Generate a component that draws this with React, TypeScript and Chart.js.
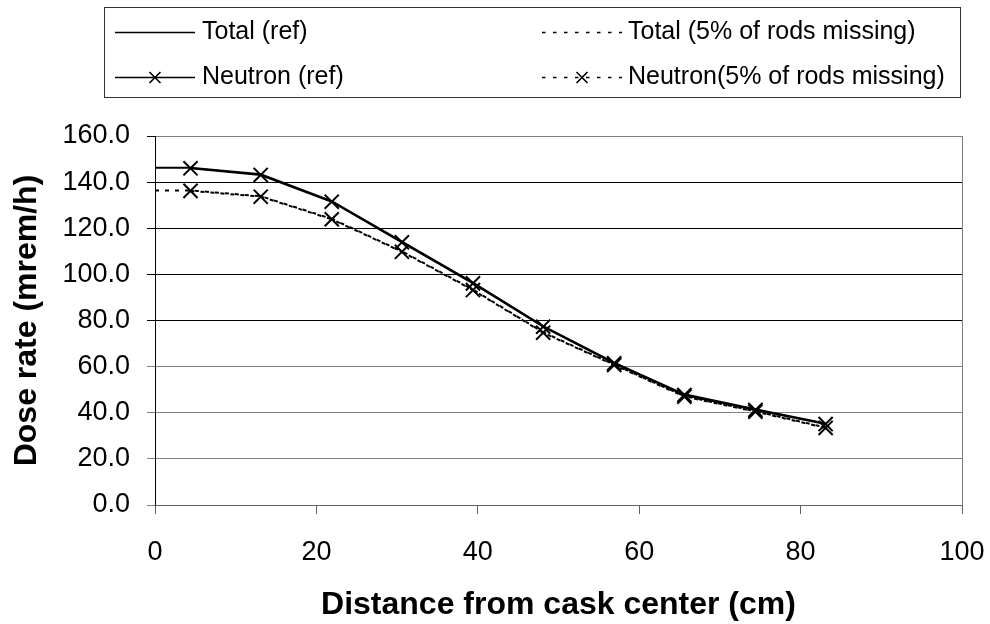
import { useEffect, useRef } from 'react';
import { Chart, registerables } from 'chart.js';

Chart.register(...registerables);

// Radial positions of the detector points (cm from cask centre)
const distances = [4.4, 13.1, 21.9, 30.6, 39.4, 48.1, 56.9, 65.6, 74.4, 83.1];
// Total curves also start at the cask centre
const totalDistances = [0, 4.4, 13.1, 21.9, 30.6, 39.4, 48.1, 56.9, 65.6, 74.4, 83.1];

// Dose rates (mrem/h)
const totalRef = [146.2, 146.2, 143.4, 131.8, 114.2, 96.4, 77.6, 61.7, 48.0, 41.5, 35.4];
const neutronRef = [146.0, 143.1, 131.5, 113.9, 96.1, 77.3, 61.4, 47.7, 41.2, 35.1];
const totalMissing = [136.4, 136.4, 133.9, 124.1, 110.0, 93.4, 74.9, 60.9, 47.2, 40.7, 33.6];
const neutronMissing = [136.2, 133.7, 123.9, 109.8, 93.2, 74.7, 60.7, 47.0, 40.5, 33.4];

const seriesNames = [
  'Total (ref)',
  'Neutron (ref)',
  'Total (5% of rods missing)',
  'Neutron(5% of rods missing)',
];

const xTitle = 'Distance from cask center (cm)';
const yTitle = 'Dose rate (mrem/h)';

const FONT = '"Liberation Sans", Arial, sans-serif';
const DASH = [4, 6];

const pairs = (xs: number[], ys: number[]) => xs.map((x, i) => ({ x, y: ys[i] }));

// Boxed 2x2 legend above the plot
const boxLegend = {
  id: 'boxLegend',
  afterDraw(chart: any) {
    const ctx = chart.ctx as CanvasRenderingContext2D;
    ctx.save();
    ctx.strokeStyle = '#333';
    ctx.lineWidth = 1;
    ctx.setLineDash([]);
    ctx.strokeRect(104.5, 7.5, 856, 90);

    const rows = [32, 77];
    const cols = [
      { x0: 115, x1: 195, tx: 202 },
      { x0: 542, x1: 622, tx: 628 },
    ];
    const drawX = (cx: number, cy: number) => {
      const h = 5.5;
      ctx.setLineDash([]);
      ctx.lineWidth = 1.6;
      ctx.beginPath();
      ctx.moveTo(cx - h, cy - h);
      ctx.lineTo(cx + h, cy + h);
      ctx.moveTo(cx - h, cy + h);
      ctx.lineTo(cx + h, cy - h);
      ctx.stroke();
    };
    const items = [
      { col: 0, row: 0, dashed: false, marker: false, label: seriesNames[0] },
      { col: 0, row: 1, dashed: false, marker: true, label: seriesNames[1] },
      { col: 1, row: 0, dashed: true, marker: false, label: seriesNames[2] },
      { col: 1, row: 1, dashed: true, marker: true, label: seriesNames[3] },
    ];
    ctx.font = `25px ${FONT}`;
    ctx.textBaseline = 'middle';
    ctx.textAlign = 'left';
    ctx.fillStyle = '#000';
    for (const it of items) {
      const c = cols[it.col];
      const y = rows[it.row];
      ctx.strokeStyle = '#000';
      ctx.lineWidth = 1.6;
      ctx.setLineDash(it.dashed ? [3.5, 7.5] : []);
      ctx.beginPath();
      ctx.moveTo(c.x0, y + 0.5);
      ctx.lineTo(c.x1, y + 0.5);
      ctx.stroke();
      if (it.marker) drawX((c.x0 + c.x1) / 2, y + 0.5);
      ctx.fillText(it.label, c.tx, y);
    }
    ctx.restore();
  },
};

export default function App() {
  const canvasRef = useRef<HTMLCanvasElement | null>(null);

  useEffect(() => {
    const canvas = canvasRef.current;
    if (!canvas) return;

    const chart = new Chart(canvas, {
      type: 'line',
      data: {
        datasets: [
          {
            label: seriesNames[0],
            data: pairs(totalDistances, totalRef),
            borderColor: '#000',
            borderWidth: 2,
            pointRadius: 0,
            tension: 0,
          },
          {
            label: seriesNames[2],
            data: pairs(totalDistances, totalMissing),
            borderColor: '#000',
            borderWidth: 2,
            borderDash: DASH,
            pointRadius: 0,
            tension: 0,
          },
          {
            label: seriesNames[1],
            data: pairs(distances, neutronRef),
            borderColor: '#000',
            borderWidth: 2,
            pointStyle: 'crossRot',
            pointRadius: 10,
            pointBorderWidth: 2,
            pointBorderColor: '#000',
            tension: 0,
          },
          {
            label: seriesNames[3],
            data: pairs(distances, neutronMissing),
            borderColor: '#000',
            borderWidth: 2,
            borderDash: DASH,
            pointStyle: 'crossRot',
            pointRadius: 10,
            pointBorderWidth: 2,
            pointBorderColor: '#000',
            tension: 0,
          },
        ],
      },
      options: {
        animation: false,
        responsive: false,
        devicePixelRatio: 1,
        layout: { padding: { top: 136, right: 28, left: 0, bottom: 0 } },
        plugins: {
          legend: { display: false },
          tooltip: { enabled: false },
        },
        scales: {
          x: {
            type: 'linear',
            min: 0,
            max: 100,
            ticks: {
              stepSize: 20,
              color: '#000',
              font: { family: FONT, size: 27 },
              padding: 22,
              maxRotation: 0,
            },
            grid: {
              color: (c: any) => (c.tick && c.tick.value === 100 ? '#808080' : 'rgba(0,0,0,0)'),
              tickColor: '#606060',
              tickLength: 9,
              lineWidth: 1,
            },
            border: { color: '#606060', width: 1 },
            title: {
              display: true,
              text: xTitle,
              color: '#000',
              font: { family: FONT, size: 32, weight: 'bold' },
              padding: { top: 0, bottom: 0 },
            },
            afterFit: (scale: any) => {
              scale.height = 119;
              scale.paddingLeft = 0;
              scale.paddingRight = 0;
            },
          },
          y: {
            type: 'linear',
            min: 0,
            max: 160,
            ticks: {
              stepSize: 20,
              color: '#000',
              font: { family: FONT, size: 27 },
              padding: 17,
              callback: (v: any) => Number(v).toFixed(1),
            },
            grid: {
              color: (c: any) => {
                const v = c.tick ? c.tick.value : 0;
                return v >= 80 && v < 160 ? '#000' : '#808080';
              },
              tickColor: (c: any) => {
                const v = c.tick ? c.tick.value : 0;
                return v >= 80 ? '#000' : '#808080';
              },
              tickLength: 8,
              lineWidth: 1,
            },
            border: { color: '#000', width: 1 },
            title: {
              display: true,
              text: yTitle,
              color: '#000',
              font: { family: FONT, size: 32, weight: 'bold' },
              padding: { top: 8, bottom: 0 },
            },
            afterFit: (scale: any) => {
              scale.width = 155;
            },
          },
        },
      },
      plugins: [boxLegend],
    });

    return () => chart.destroy();
  }, []);

  return (
    <div style={{ position: 'absolute', left: 0, top: 0, width: 990, height: 624, background: '#fff' }}>
      <canvas ref={canvasRef} width={990} height={624} style={{ display: 'block' }} />
    </div>
  );
}
